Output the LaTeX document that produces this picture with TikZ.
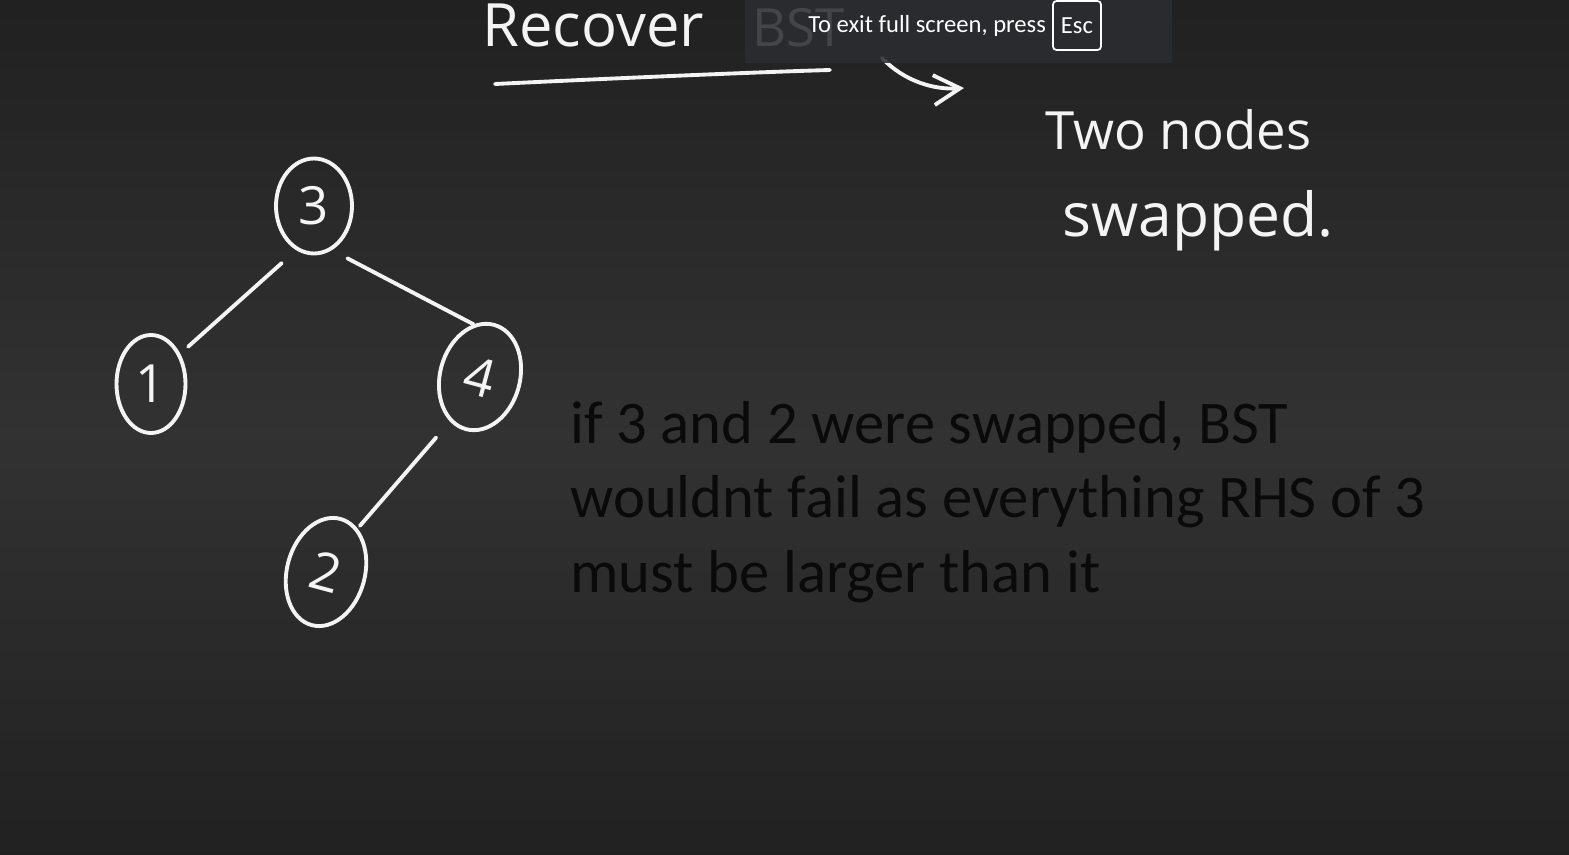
\documentclass[tikz,border=0pt]{standalone}
\usepackage{fontspec}
\setmainfont{Carlito}
\newfontfamily\handfont{Open Sans}
\usetikzlibrary{shapes.geometric,arrows.meta}
\definecolor{bgedge}{HTML}{212121}
\definecolor{bgmid}{HTML}{323232}
\definecolor{chalkw}{HTML}{F4F4F4}
\definecolor{ink}{HTML}{0A0A0A}
\definecolor{ovl}{HTML}{2B2D31}

\begin{document}
\begin{tikzpicture}[
  x=0.02cm, y=-0.02cm,
  stroke/.style={chalkw, line width=2.2pt, line cap=round, line join=round},
  bnode/.style={ellipse, draw=chalkw, line width=2.2pt, inner sep=0pt, text=chalkw,
    font=\handfont\fontsize{30}{30}\selectfont},
  edge/.style={stroke},
  hand/.style={text=chalkw, inner sep=0pt, anchor=base west},
  para/.style={text=ink, inner sep=0pt, anchor=base west, font=\fontsize{34.5}{40}\selectfont},
  ovltxt/.style={text=white, inner sep=0pt, font=\fontsize{14}{16}\selectfont},
]
\useasboundingbox (0,0) rectangle (1569,855);

% ---------- board (vertical fade, lightest in the middle) ----------
\foreach \i in {0,...,85}{
  \pgfmathsetmacro\yy{\i*10}
  \pgfmathtruncatemacro\pc{100*(1-abs(\yy-430)/430)}
  \fill[bgmid!\pc!bgedge] (0,\yy) rectangle (1569,\yy+11);
}

% ---------- title ----------
\node[hand, font=\handfont\fontsize{34}{34}\selectfont] (title) at (482,47) {Recover};
\node[hand, font=\handfont\fontsize{30}{30}\selectfont] (bst) at (752,47) {BST};
\draw[stroke] (495,84) .. controls (620,78) and (760,72) .. (830,70);

% arrow to the note
\coordinate (arrS) at (882,58);
\coordinate (arrE) at (964,88);
\draw[stroke, -{Straight Barb[length=15pt, width=17pt]}] (arrS) .. controls (905,82) and (935,90) .. (arrE);

% ---------- full screen banner ----------
\fill[ovl, fill opacity=0.88] (745,0) rectangle (1172,63);
\node[ovltxt, anchor=base west] (exitmsg) at (808,33) {To exit full screen, press};
\draw[white, line width=1pt, rounded corners=2pt] (1053,1) rectangle (1101,50);
\node[ovltxt] (esc) at (1077,26) {Esc};

% ---------- note ----------
\node[hand, font=\handfont\fontsize{30}{30}\selectfont] (noteA) at (1045,150) {Two nodes};
\node[hand, font=\handfont\fontsize{34.5}{34.5}\selectfont] (noteB) at (1062,236) {swapped.};

% ---------- tree ----------
\node[bnode, minimum width=1.52cm, minimum height=1.9cm] (n3) at (314,206) {3};
\node[bnode, minimum width=1.38cm, minimum height=1.96cm] (n1) at (151,384) {1};
\node[bnode, minimum width=1.6cm, minimum height=2.16cm, rotate=-15] (n4) at (480,377) {4};
\node[bnode, minimum width=1.56cm, minimum height=2.2cm, rotate=-15] (n2) at (326,572) {2};

\draw[edge, shorten <=11pt, shorten >=6pt] (n3.248) -- (n1.46);
\draw[edge, shorten <=10pt] (n3.292) -- (n4.112);
\draw[edge, shorten <=12pt, shorten >=2pt] (n4.251) -- (n2.69);

% ---------- remark ----------
\node[para] (lineA) at (570,443) {if 3 and 2 were swapped, BST};
\node[para] (lineB) at (570,517) {wouldnt fail as everything RHS of 3};
\node[para] (lineC) at (570,592) {must be larger than it};

\end{tikzpicture}
\end{document}
